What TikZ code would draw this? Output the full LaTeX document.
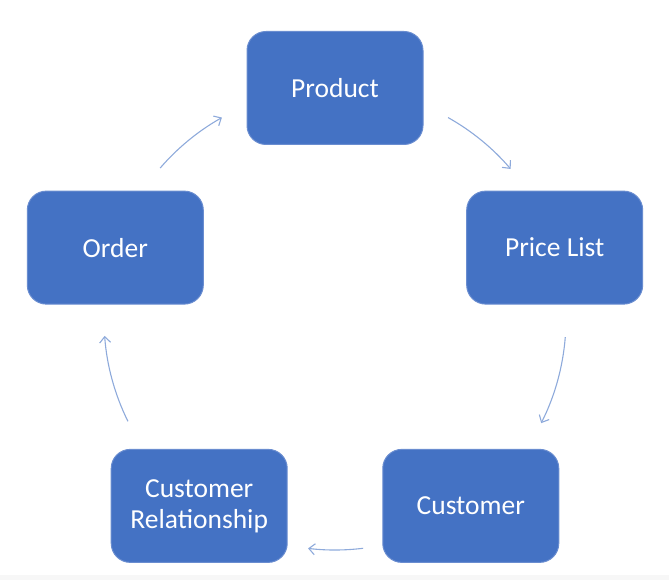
\documentclass[tikz,border=0pt]{standalone}
\usepackage{fontspec}
\setmainfont{Carlito}
\usetikzlibrary{arrows.meta}
\definecolor{boxblue}{HTML}{4472C4}
\definecolor{boxedge}{HTML}{6A8DD0}
\definecolor{arcblue}{HTML}{8EAADB}
\begin{document}
\begin{tikzpicture}[x=1pt,y=1pt,
	box/.style={draw=boxedge, line width=1pt, fill=boxblue, rounded corners=19pt,
		minimum width=176pt, minimum height=113pt, text=white, align=center,
		font=\fontsize{27.5}{31}\selectfont},
	flow/.style={draw=arcblue, line width=1.1pt, -{Straight Barb[length=6pt,width=11pt]}}]

	\useasboundingbox (0, 0) rectangle (669, 580);
	\fill[black!3] (0, 0) rectangle (669, 5);

	\coordinate (c) at (335, 261);

		\node[box] (product) at ([shift={(90:231)}]c){Product};
		\node[box] (pricelist) at ([shift={(18:231)}]c){Price List};
		\node[box] (customer) at ([shift={(-54:231)}]c){Customer};
		\node[box] (relation) at ([shift={(-126:231)}]c){Customer\\Relationship};
		\node[box] (order) at ([shift={(162:231)}]c){Order};

	% arcs round the circle
	\foreach \a/\b in {60.7/40.5, -4.5/-26.8, -83/-96.7, 206.3/184.2, 139.2/119.3}
		\draw[flow] ([shift={(\a:231)}]c) arc[start angle=\a, end angle=\b, radius=231];

\end{tikzpicture}
\end{document}
